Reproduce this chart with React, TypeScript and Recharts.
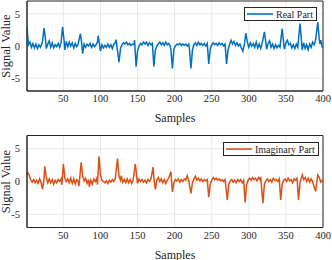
import { LineChart, Line, XAxis, YAxis, CartesianGrid, ReferenceArea, Legend } from "recharts";

// Sample positions and values (peaks kept at their own sample)
const REAL_X = [
  1, 2, 3, 5, 7, 9, 11, 13, 15, 17, 19, 21, 22, 24, 26, 27, 29, 31, 33, 35, 37, 39, 41, 43, 45, 47, 49, 51, 52, 54,
  56, 58, 60, 62, 64, 66, 68, 70, 71, 73, 75, 76, 78, 80, 82, 84, 86, 88, 90, 92, 94, 96, 97, 99, 100, 102, 104, 106,
  108, 110, 112, 114, 116, 118, 120, 121, 123, 125, 127, 129, 131, 133, 135, 137, 139, 141, 143, 145, 146, 148, 150,
  152, 154, 156, 158, 160, 162, 164, 166, 168, 170, 172, 174, 176, 178, 180, 182, 184, 186, 188, 190, 192, 194, 195,
  197, 199, 201, 203, 205, 207, 209, 211, 213, 215, 217, 219, 220, 222, 224, 226, 228, 230, 232, 234, 236, 238, 240,
  242, 244, 246, 248, 250, 252, 254, 256, 258, 260, 262, 264, 266, 268, 270, 272, 274, 276, 278, 280, 282, 284, 286,
  288, 290, 292, 294, 296, 298, 300, 302, 304, 306, 308, 310, 312, 314, 316, 318, 321, 323, 324, 326, 328, 330, 332,
  334, 336, 338, 340, 342, 345, 347, 348, 350, 352, 354, 356, 358, 360, 362, 364, 366, 369, 371, 372, 374, 376, 378,
  380, 382, 384, 386, 388, 390, 393, 395, 396, 397, 399, 400,
];
const REAL_Y = [
  3.0, 1.5, 0.2, 0.6, -0.2, 0.4, -0.3, 0.3, -0.4, 0.2, -0.2, 0.3, 0.8, 2.8, 1.0, -0.4, 0.3, 0.8, -0.2, 0.5, -0.3, 0.2,
  -0.1, 0.4, -0.2, 0.6, 3.0, 0.8, -0.6, 0.7, -0.1, 0.6, 0.0, 0.5, -0.3, 0.4, -0.1, 0.3, 0.9, 1.9, 0.2, -1.2, 0.3, -0.2,
  0.3, 0.0, 0.4, -0.2, 0.3, -0.1, 0.2, 0.6, 1.6, 0.0, -0.8, 0.2, -0.3, 0.1, -0.2, 0.3, -0.2, 0.2, -0.4, 0.3, 0.5, 1.0,
  -0.8, -2.5, -0.4, 0.2, 0.5, 0.3, 0.6, 0.2, 0.4, 0.1, 0.3, 0.2, 0.9, -3.2, -0.8, 0.0, 0.4, 0.2, 0.6, 0.3, 0.6, 0.1,
  0.5, 0.2, 0.4, -3.2, -0.6, 0.0, 0.3, 0.6, 0.2, 0.5, 0.1, 0.6, 0.2, 0.4, 0.0, -0.6, -3.5, -0.5, 0.0, 0.3, 0.2, 0.4,
  0.1, 0.3, 0.1, 0.3, 0.0, 0.3, -0.5, -3.5, -0.6, 0.2, 0.5, 0.1, 0.6, 0.2, 0.4, 0.1, 0.4, 0.0, 0.4, -2.8, -0.5, 0.2,
  0.5, 0.2, 0.4, 0.1, 0.5, 0.2, 0.4, 0.0, 0.3, -2.8, -0.6, 0.2, 0.9, 0.3, 0.7, 0.1, 0.5, 0.0, 0.3, -0.3, -0.8, 0.2,
  2.0, 0.6, -0.2, 0.5, 0.0, 0.4, -0.2, 0.6, -0.3, 0.3, -0.4, 0.4, 2.2, 0.5, -0.5, 0.4, 0.8, -0.2, 0.3, -0.4, 0.2, -0.3,
  0.1, -0.2, 2.7, 0.4, -0.5, 0.5, 0.9, 0.2, 0.4, -0.3, 0.2, -0.4, 0.3, -0.2, 3.5, 0.8, -0.6, 0.5, -0.4, 0.2, -0.6, 0.3,
  -0.2, 0.6, 0.2, 0.9, 3.7, 1.0, 0.3, 0.9, -0.2, -0.3,
];

const IMAG_X = [
  1, 2, 4, 6, 8, 10, 12, 14, 16, 18, 20, 22, 24, 25, 27, 29, 31, 33, 35, 37, 39, 41, 43, 45, 47, 48, 50, 52, 54, 56,
  58, 60, 62, 64, 66, 68, 70, 71, 72, 74, 76, 78, 80, 82, 84, 85, 87, 89, 91, 93, 95, 96, 98, 100, 102, 104, 106, 108,
  110, 112, 114, 116, 118, 120, 123, 125, 127, 128, 130, 132, 134, 136, 138, 140, 142, 144, 147, 149, 150, 152, 154,
  156, 158, 160, 162, 164, 166, 168, 171, 172, 174, 176, 178, 180, 182, 184, 186, 188, 190, 192, 195, 197, 199, 201,
  203, 205, 207, 209, 211, 213, 215, 217, 219, 222, 224, 226, 228, 230, 232, 234, 236, 238, 240, 242, 244, 246, 248,
  250, 252, 254, 256, 258, 260, 262, 264, 266, 268, 271, 273, 275, 277, 279, 281, 283, 285, 287, 289, 291, 293, 295,
  297, 299, 301, 303, 305, 307, 309, 311, 313, 315, 316, 319, 321, 323, 325, 327, 329, 331, 333, 335, 337, 339, 341,
  343, 345, 347, 349, 351, 353, 355, 357, 359, 361, 363, 365, 367, 369, 371, 372, 374, 376, 378, 380, 382, 384, 386,
  388, 390, 392, 393, 395, 397, 399, 400,
];
const IMAG_Y = [
  0.8, 1.4, 1.0, 0.2, -0.1, 0.3, -0.2, 0.2, -0.3, 0.4, -0.2, -1.2, 0.5, 2.3, 0.6, -0.2, 0.4, -0.2, 0.3, -0.4, 0.2, -0.2,
  0.3, 0.0, 0.4, -0.5, 2.7, 0.5, 0.0, 0.4, -0.2, 0.5, -0.3, 0.4, -0.4, 0.3, 0.0, -0.7, 0.5, 2.9, 0.8, 0.1, 0.5, -0.3,
  0.3, -0.8, 0.2, -0.4, 0.4, 0.0, 0.5, -0.5, 3.8, 1.0, 0.2, 0.0, -0.2, 0.1, -0.3, 0.2, -0.1, 0.3, 0.0, 0.4, 3.5, 0.8,
  0.2, 0.9, -0.1, 0.3, -0.2, 0.4, -0.2, 0.3, -0.3, 0.2, 2.7, 0.6, -0.3, 0.4, 0.0, 0.3, -0.1, 0.2, -0.2, 0.3, 0.0, 0.4,
  2.2, 0.5, -1.2, 0.2, 0.6, 0.0, 0.4, -0.2, 0.3, -0.3, 0.2, 0.5, 1.5, -1.6, -0.2, 0.3, 0.1, 0.4, -0.1, 0.3, 0.0, 0.4,
  0.2, 0.9, 0.1, -1.8, -0.2, 0.4, 0.8, 0.2, 0.5, 0.1, 0.4, 0.0, 0.3, 0.1, 0.3, -2.4, -0.4, 0.2, 0.6, 0.3, 0.5, 0.2,
  0.4, 0.1, 0.3, 0.0, 0.3, -2.8, -0.4, 0.1, 0.3, -0.1, 0.2, -0.2, 0.3, 0.0, 0.3, -0.2, 0.2, -3.2, -0.5, 0.2, 0.5, 0.2,
  0.6, 0.3, 0.5, 0.1, 0.6, 0.3, 0.7, -3.3, -0.4, 0.1, 0.4, 0.0, 0.3, -0.1, 0.5, 0.2, 0.3, 0.0, 0.4, -2.8, -0.4, 0.2,
  0.4, 0.0, 0.5, 0.1, 0.3, -0.2, 0.4, 0.2, 0.5, -2.8, -0.2, 0.6, 1.0, 0.3, 0.6, 0.0, 0.5, -0.1, 0.4, 0.0, -0.8, -1.5,
  0.3, 1.0, 0.6, -0.1, 0.2, 0.0,
];

const X_TICKS = [50, 100, 150, 200, 250, 300, 350, 400];
const Y_TICKS = [-5, 0, 5];

const realData = REAL_X.map((s, i) => ({ sample: s, value: REAL_Y[i] }));
const imagData = IMAG_X.map((s, i) => ({ sample: s, value: IMAG_Y[i] }));

const FONT = "'Liberation Serif', 'Times New Roman', serif";
const AXIS = "#262626";
const tick = { fill: AXIS, fontSize: 10.5, fontFamily: FONT };

const YLabel = ({ viewBox }: any) => {
  const cx = 6;
  const cy = viewBox.y + viewBox.height / 2;
  return (
    <text
      x={cx}
      y={cy}
      transform={`rotate(-90 ${cx} ${cy})`}
      textAnchor="middle"
      dominantBaseline="central"
      fill={AXIS}
      fontSize={12.5}
      fontFamily={FONT}
    >
      Signal Value
    </text>
  );
};

const LegendBox = ({ label, color }: { label: string; color: string }) => (
  <div
    style={{
      display: "flex",
      alignItems: "center",
      border: `1px solid ${AXIS}`,
      background: "#fff",
      padding: "0 3px 0 1px",
      height: 12,
      fontFamily: FONT,
      fontSize: 10,
      color: AXIS,
      whiteSpace: "nowrap",
    }}
  >
    <svg width={28} height={6}>
      <line x1={1} y1={3} x2={27} y2={3} stroke={color} strokeWidth={1.6} />
    </svg>
    <span style={{ marginLeft: 2 }}>{label}</span>
  </div>
);

const Panel = ({ data, color, label, marginTop, plotHeight, legendLeft, legendTop }: any) => (
  <LineChart
    width={332}
    height={130}
    data={data}
    margin={{ top: marginTop, right: 9, left: 7, bottom: 130 - marginTop - plotHeight - 39 }}
  >
    <CartesianGrid stroke="#e3e3e3" strokeWidth={0.8} horizontalValues={Y_TICKS} verticalValues={X_TICKS} />
    <XAxis
      dataKey="sample"
      type="number"
      domain={[1, 400]}
      ticks={X_TICKS}
      tick={tick}
      tickLine={false}
      tickSize={4}
      tickMargin={0}
      axisLine={{ stroke: AXIS }}
      height={39}
      label={{ value: "Samples", position: "insideBottom", offset: 8, fill: AXIS, fontSize: 12, fontFamily: FONT }}
    />
    <YAxis
      type="number"
      domain={[-7, 7]}
      ticks={Y_TICKS}
      tick={tick}
      tickLine={false}
      tickSize={4}
      tickMargin={3}
      axisLine={{ stroke: AXIS }}
      width={20}
      label={<YLabel />}
    />
    <ReferenceArea x1={1} x2={400} y1={-7} y2={7} fill="none" stroke={AXIS} strokeWidth={1} />
    <Legend
      layout="horizontal"
      verticalAlign="middle"
      align="center"
      wrapperStyle={{ top: legendTop, left: legendLeft, width: "auto" }}
      content={() => <LegendBox label={label} color={color} />}
    />
    <Line
      type="linear"
      dataKey="value"
      name={label}
      stroke={color}
      strokeWidth={1.5}
      dot={false}
      isAnimationActive={false}
    />
  </LineChart>
);

export default function App() {
  return (
    <div style={{ position: "absolute", left: 0, top: 0, width: 332, height: 260, background: "#fff" }}>
      <Panel data={realData} color="#0072BD" label="Real Part" marginTop={1} plotHeight={90} legendLeft={244} legendTop={7} />
      <Panel data={imagData} color="#D95319" label="Imaginary Part" marginTop={5.5} plotHeight={92} legendLeft={223} legendTop={12} />
    </div>
  );
}
